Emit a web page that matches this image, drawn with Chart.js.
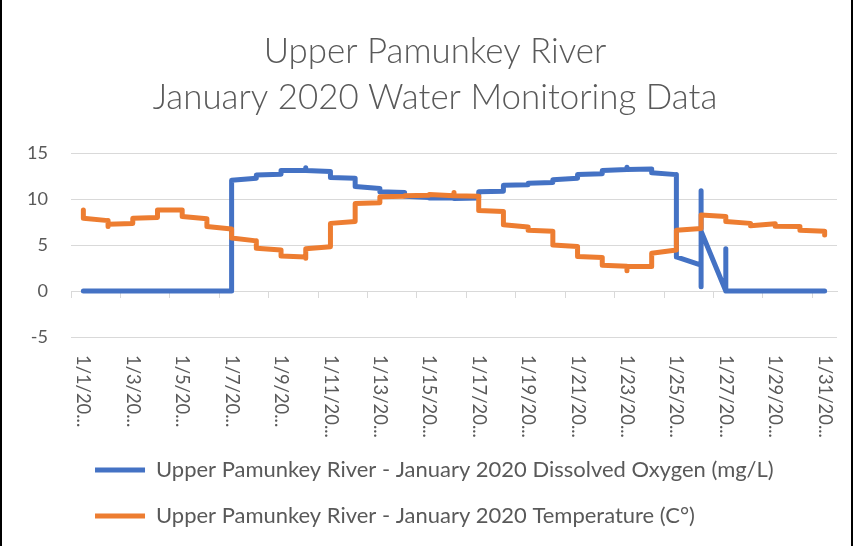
<!DOCTYPE html>
<html>
<head>
<meta charset="utf-8">
<script src="https://cdn.jsdelivr.net/npm/chart.js@4.4.1/dist/chart.umd.min.js"></script>
<style>
  html, body { margin: 0; padding: 0; background: #fff; }
  #wrap { position: relative; width: 855px; height: 546px; overflow: hidden; }
  #wrap .edgeL { position: absolute; left: 0; top: 0; bottom: 0; width: 2px; background: #000; }
  #wrap .edgeR { position: absolute; left: 851px; top: 0; bottom: 0; width: 2px; background: #000; }
  canvas { display: block; }
</style>
</head>
<body>
<div id="wrap">
  <canvas id="c" width="855" height="546"></canvas>
  <div class="edgeL"></div>
  <div class="edgeR"></div>
</div>
<script>
// ---------- DATA ----------
const titleLines = ['Upper Pamunkey River', 'January 2020 Water Monitoring Data'];
const seriesNames = [
  'Upper Pamunkey River - January 2020 Dissolved Oxygen (mg/L)',
  'Upper Pamunkey River - January 2020 Temperature (C°)'
];
// one entry per day (1/1/2020 .. 1/31/2020); readings of a day share that day's x position
const days = [1,2,3,4,5,6,7,8,9,10,11,12,13,14,15,16,17,18,19,20,21,22,23,24,25,26,27,28,29,30,31];
const dissolvedOxygen = [
  [0, 0], [0], [0, 0], [0, 0], [0], [0], [0, 12.05], [12.25, 12.6], [12.7, 13.1], [13.1, 13.4, 13.1],
  [13.0, 12.35], [12.25, 11.35], [11.15, 10.8], [10.7, 10.3], [10.15, 10.1], [10.1, 10.05], [10.1, 10.8],
  [10.85, 11.5], [11.55, 11.7], [11.8, 12.1], [12.25, 12.65], [12.75, 13.1], [13.2, 13.45, 13.2],
  [13.25, 12.85], [12.65, 3.7], [2.8, 10.9, 0.45, 6.5], [0, 4.6, 0], [0], [0], [0], [0]
];
const temperature = [
  [8.8, 7.9], [7.65, 7.0, 7.25], [7.35, 7.9], [8.0, 8.8], [8.8, 8.1], [7.85, 7.0], [6.75, 5.75],
  [5.45, 4.65], [4.45, 3.8], [3.7, 3.55, 4.6], [4.8, 7.35], [7.55, 9.5], [9.6, 10.25], [10.3, 10.35],
  [10.4, 10.5], [10.35, 10.7, 10.35], [10.3, 8.75], [8.65, 7.2], [6.95, 6.6], [6.5, 5.0], [4.85, 3.75],
  [3.65, 2.8], [2.7, 2.2, 2.65], [2.65, 4.1], [4.45, 6.6], [6.8, 8.25], [8.1, 7.55], [7.35, 7.1],
  [7.3, 7.05], [7.0, 6.6], [6.5, 6.1]
];
const tickDays = [1,3,5,7,9,11,13,15,17,19,21,23,25,27,29,31];
const tickLabels = ['1/1/20...','1/3/20...','1/5/20...','1/7/20...','1/9/20...','1/11/20...','1/13/20...',
  '1/15/20...','1/17/20...','1/19/20...','1/21/20...','1/23/20...','1/25/20...','1/27/20...','1/29/20...','1/31/20...'];
const yTicks = [-5, 0, 5, 10, 15];
const axisTickDays = [0.5,2.5,4.5,6.5,8.5,10.5,12.5,14.5,16.5,18.5,20.5,22.5,24.5,26.5,28.5,30.5];

// ---------- STYLE ----------
const FAMILY = 'Lato';
const GREY = '#595959';
const GRID = '#D9D9D9';
const mctx = document.createElement('canvas').getContext('2d');
function fitSize(text, weight, target) {
  mctx.font = weight + ' 100px ' + FAMILY;
  return 100 * target / mctx.measureText(text).width;
}
const titleSize = fitSize(titleLines[1], '300', 565);
const legendSize = fitSize(seriesNames[0], 'normal', 618);
const yTickSize = fitSize('15', 'normal', 21);
const xTickSize = fitSize('1/11/20...', 'normal', 83);

const PAD_LEFT = 15;
const PLOT_LEFT = 71;
const PLOT_RIGHT_GAP = 18;
const legendRowGap = 46;
const legendPad = legendRowGap - legendSize;
const legendRow1 = 470;
const legendTop = legendRow1 - legendPad - legendSize / 2;
const padBottom = 546 - (legendTop + 2 * legendRowGap + 10);
const plotBottom = 337;

function toPoints(readings) {
  const pts = [];
  readings.forEach((arr, i) => arr.forEach(v => pts.push({ x: days[i], y: v })));
  return pts;
}

const xLabelPlugin = {
  id: 'xLabels',
  afterDraw(chart) {
    const sx = chart.scales.x;
    const ctx = chart.ctx;
    ctx.save();
    ctx.font = 'normal ' + xTickSize + 'px ' + FAMILY;
    ctx.fillStyle = GREY;
    ctx.textAlign = 'left';
    ctx.textBaseline = 'middle';
    tickDays.forEach((d, i) => {
      const x = sx.getPixelForValue(d);
      ctx.save();
      ctx.translate(x, chart.chartArea.bottom + 18);
      ctx.rotate(Math.PI / 2);
      ctx.fillText(tickLabels[i], 0, 0);
      ctx.restore();
    });
    ctx.restore();
  }
};

new Chart(document.getElementById('c'), {
  type: 'line',
  data: {
    datasets: [
      {
        label: seriesNames[0], data: toPoints(dissolvedOxygen),
        borderColor: '#4472C4', backgroundColor: '#4472C4', borderWidth: 5,
        pointRadius: 0, pointStyle: 'line', borderCapStyle: 'round', borderJoinStyle: 'round',
        tension: 0, order: 1
      },
      {
        label: seriesNames[1], data: toPoints(temperature),
        borderColor: '#ED7D31', backgroundColor: '#ED7D31', borderWidth: 5,
        pointRadius: 0, pointStyle: 'line', borderCapStyle: 'round', borderJoinStyle: 'round',
        tension: 0, order: 0
      }
    ]
  },
  options: {
    responsive: false,
    animation: false,
    devicePixelRatio: 1,
    events: [],
    layout: { padding: { left: PAD_LEFT, right: 0, top: 0, bottom: padBottom } },
    plugins: {
      tooltip: { enabled: false },
      title: {
        display: true, text: titleLines, color: GREY,
        font: { family: FAMILY, size: titleSize, weight: '300', lineHeight: 46 / titleSize },
        padding: { top: 29, bottom: 32 }
      },
      legend: {
        display: true, position: 'bottom', align: 'start', fullSize: false,
        labels: {
          usePointStyle: true, pointStyleWidth: 50, padding: legendPad, color: GREY,
          font: { family: FAMILY, size: legendSize },
          sort: (a, b) => a.datasetIndex - b.datasetIndex
        }
      }
    },
    scales: {
      x: {
        type: 'linear', min: 0.5, max: 31.5,
        afterBuildTicks: s => { s.ticks = tickDays.map(v => ({ value: v })); },
        ticks: { display: false },
        grid: { display: false },
        border: { display: false },
        afterFit: s => { s.height = legendTop - plotBottom; }
      },
      x2: {
        type: 'linear', axis: 'x', position: { y: 0 }, min: 0.5, max: 31.5,
        afterBuildTicks: s => { s.ticks = axisTickDays.map(v => ({ value: v })); },
        ticks: { display: false },
        grid: { drawOnChartArea: false, drawTicks: true, tickLength: 6, color: GRID, lineWidth: 1 },
        border: { display: true, color: GRID, width: 1 }
      },
      y: {
        min: -5, max: 15,
        afterBuildTicks: s => { s.ticks = yTicks.map(v => ({ value: v })); },
        ticks: { color: GREY, font: { family: FAMILY, size: yTickSize }, padding: 23 },
        grid: { color: GRID, lineWidth: 1, drawTicks: false },
        border: { display: false },
        afterFit: s => { s.width = PLOT_LEFT - PAD_LEFT; }
      },
      yRightGap: {
        type: 'linear', axis: 'y', position: 'right', min: -5, max: 15,
        ticks: { display: false },
        grid: { display: false },
        border: { display: false },
        afterFit: s => { s.width = PLOT_RIGHT_GAP; }
      }
    }
  },
  plugins: [xLabelPlugin]
});
</script>
</body>
</html>
